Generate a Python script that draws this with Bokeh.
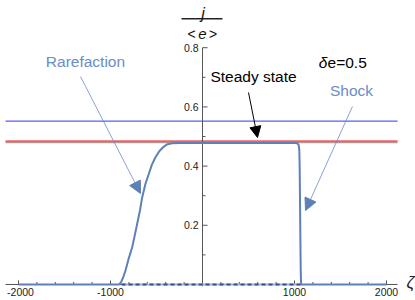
from bokeh.plotting import figure
from bokeh.models import Label, Arrow, NormalHead, ColumnDataSource, Range1d
from bokeh.core.properties import value
from bokeh.embed import file_html
from bokeh.resources import INLINE

# ---------------- data ----------------
zeta = [-2000, -905, -885, -865, -837, -800, -764, -737, -710, -680, -655, -620,
        -583, -550, -511, -470, -420, -380, -330, -250, 0, 500, 1000, 1030,
        1045, 1052, 1056, 1060, 1064, 1068, 1072, 2000]
current = [0, 0, 0.008, 0.022, 0.047, 0.09, 0.126, 0.165, 0.205, 0.25, 0.295, 0.34,
           0.374, 0.405, 0.43, 0.45, 0.466, 0.474, 0.477, 0.478, 0.478, 0.478, 0.478, 0.477,
           0.472, 0.455, 0.40, 0.28, 0.15, 0.04, 0, 0]
zero_dash_x = [-880, 1070]
steady_level = 0.479
red_level = 0.484
blue_level = 0.552
x_major = [-2000, -1000, 1000, 2000]
x_major_labels = ["-2000", "-1000", "1000", "2000"]
x_minor = [v for v in range(-1800, 2000, 200) if v % 1000 != 0]
y_major = [0.2, 0.4, 0.6, 0.8]
y_major_labels = ["0.2", "0.4", "0.6", "0.8"]
y_minor = [0.1, 0.3, 0.5, 0.7]

FONT = "Liberation Sans"
CURVE = "#5E81B5"
ANNOT = "#6a8cc8"
AXIS = "#555555"
TICKLAB = "#222222"

p = figure(width=415, height=300, output_backend="svg", toolbar_location=None,
           x_axis_type=None, y_axis_type=None, min_border=0,
           x_range=Range1d(-2195.7, 2315.2), y_range=Range1d(-0.0541, 0.9595))
p.grid.visible = False
p.outline_line_color = None
p.background_fill_color = "white"
p.border_fill_color = "white"

# px-to-data helpers for tick lengths
PX_X = 1 / 0.092
PX_Y = 1 / 296.0

# horizontal reference lines
p.line([-2141, 2120], [blue_level, blue_level], line_color="#3333ff", line_width=1)
p.line([-2141, 2120], [steady_level, steady_level], line_color="#a8a8a8", line_width=1.2)
p.line([-2141, 2120], [red_level, red_level], line_color="#f05050", line_width=1.8, line_alpha=0.9)

# axes
p.line([-2141, 2120], [0, 0], line_color=AXIS, line_width=1)
p.line([0, 0], [-0.006, 0.8], line_color=AXIS, line_width=1)
p.segment(x0=x_major, y0=[0] * len(x_major), x1=x_major, y1=[4 * PX_Y] * len(x_major),
          line_color=AXIS, line_width=1)
p.segment(x0=x_minor, y0=[0] * len(x_minor), x1=x_minor, y1=[2.5 * PX_Y] * len(x_minor),
          line_color=AXIS, line_width=1)
p.segment(x0=[0] * len(y_major), y0=y_major, x1=[5 * PX_X] * len(y_major), y1=y_major,
          line_color=AXIS, line_width=1)
p.segment(x0=[0] * len(y_minor), y0=y_minor, x1=[3 * PX_X] * len(y_minor), y1=y_minor,
          line_color=AXIS, line_width=1)

# tick labels
xoff = [2 if v == -2000 else 0 for v in x_major]
xlab = ColumnDataSource(dict(x=x_major, y=[0] * len(x_major), t=x_major_labels, xo=xoff))
p.text(x="x", y="y", text="t", source=xlab, x_offset="xo", y_offset=8,
       text_align="center", text_baseline="middle", text_font=value(FONT),
       text_font_size="10.5px", text_color=TICKLAB)
ylab = ColumnDataSource(dict(x=[0] * len(y_major), y=y_major, t=y_major_labels))
p.text(x="x", y="y", text="t", source=ylab, x_offset=-4,
       text_align="right", text_baseline="middle", text_font=value(FONT),
       text_font_size="10.5px", text_color=TICKLAB)

# dashed part along the axis
p.line(zero_dash_x, [0, 0], line_color="#9fb0c8", line_width=2)
p.line(zero_dash_x, [0, 0], line_color="#34528a", line_width=2, line_dash="4 3")

# main curve
p.line(zeta, current, line_color=CURVE, line_width=2)

# axis labels
p.add_layout(Label(x=2261, y=0.0068, text="ζ", text_align="center", text_baseline="middle",
                   text_font=FONT, text_font_size="17px", text_font_style="italic",
                   text_color="#222222"))
p.add_layout(Label(x=5, y=0.9155, text="j", text_align="center", text_baseline="alphabetic",
                   text_font=FONT, text_font_size="16px", text_font_style="italic",
                   text_color="#111111"))
p.line([-228, 217], [0.8976, 0.8976], line_color="#222222", line_width=1.6)
p.add_layout(Label(x=-120, y=0.848, text="<", text_align="center", text_baseline="middle",
                   text_font=FONT, text_font_size="14px", text_color="#111111"))
p.add_layout(Label(x=0, y=0.848, text="e", text_align="center", text_baseline="middle",
                   text_font=FONT, text_font_size="15px", text_font_style="italic",
                   text_color="#111111"))
p.add_layout(Label(x=114, y=0.848, text=">", text_align="center", text_baseline="middle",
                   text_font=FONT, text_font_size="14px", text_color="#111111"))

# annotations
p.add_layout(Label(x=-1272, y=0.7534, text="Rarefaction", text_align="center", text_baseline="middle",
                   text_font=FONT, text_font_size="15.5px", text_color=ANNOT))
p.add_layout(Label(x=1620, y=0.6554, text="Shock", text_align="center", text_baseline="middle",
                   text_font=FONT, text_font_size="15.5px", text_color=ANNOT))
p.add_layout(Label(x=554, y=0.7027, text="Steady state", text_align="center", text_baseline="middle",
                   text_font=FONT, text_font_size="15.5px", text_color="#000000"))
p.add_layout(Label(x=1310, y=0.75, text="δ", text_align="center", text_baseline="middle",
                   text_font=FONT, text_font_size="15.5px", text_font_style="italic",
                   text_color="#000000"))
p.add_layout(Label(x=1359, y=0.75, text="e=0.5", text_align="left", text_baseline="middle",
                   text_font=FONT, text_font_size="15.5px", text_color="#000000"))

p.add_layout(Arrow(end=NormalHead(size=11, fill_color="black", line_color="black"),
                   x_start=500, y_start=0.6486, x_end=598, y_end=0.4966,
                   line_color="black", line_width=1))
p.add_layout(Arrow(end=NormalHead(size=12, fill_color=CURVE, line_color=CURVE),
                   x_start=-1326, y_start=0.7027, x_end=-674, y_end=0.3074,
                   line_color=ANNOT, line_width=0.8))
p.add_layout(Arrow(end=NormalHead(size=12, fill_color=CURVE, line_color=CURVE),
                   x_start=1630, y_start=0.6014, x_end=1120, y_end=0.25,
                   line_color=ANNOT, line_width=0.8))

open("out.html", "w").write(file_html(p, INLINE))
